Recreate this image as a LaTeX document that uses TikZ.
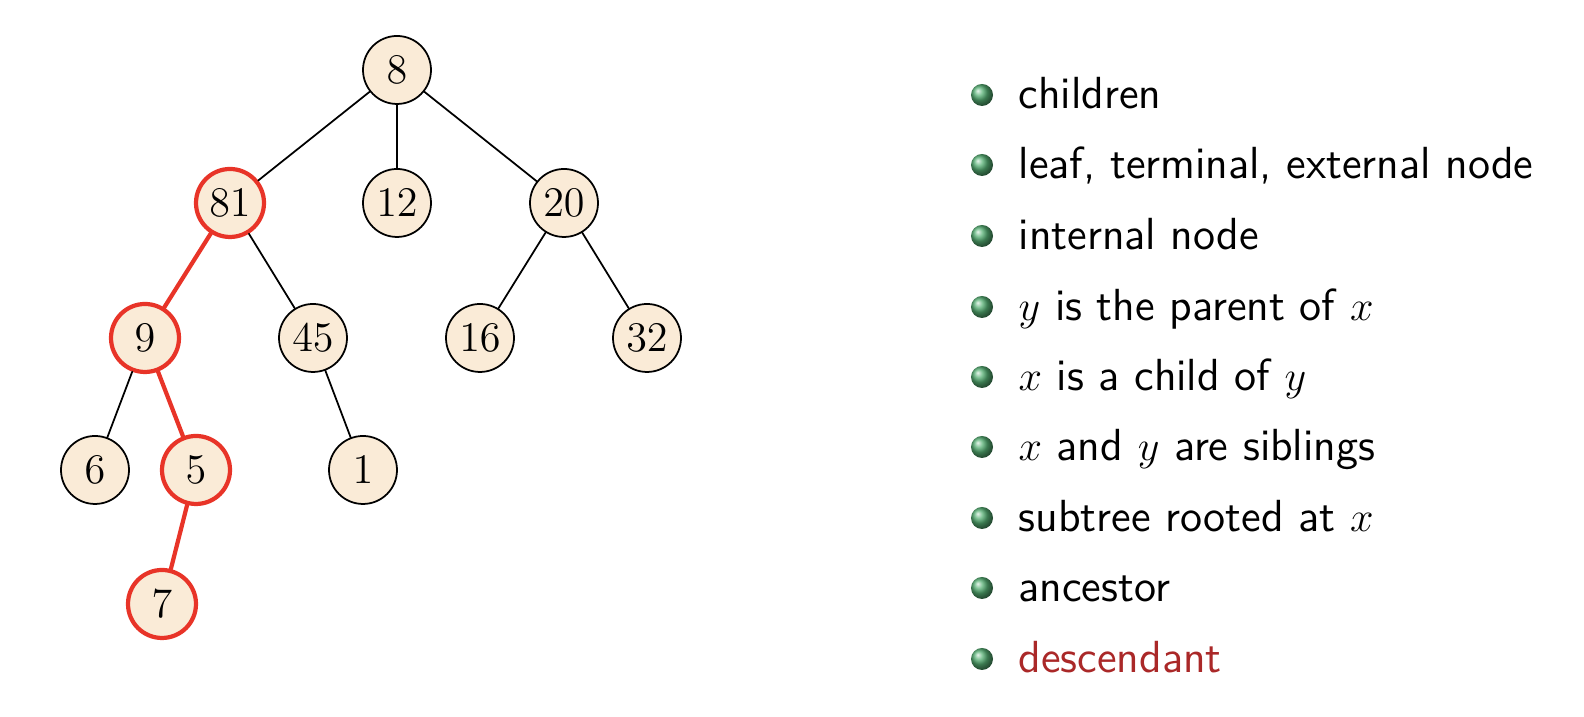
\documentclass[tikz,border=0pt]{standalone}
\usepackage{amsmath,amssymb}
\usetikzlibrary{arrows}
\definecolor{nodefill}{RGB}{250,235,215}
\definecolor{hotred}{RGB}{232,52,40}
\definecolor{ballgreen}{RGB}{85,175,115}
\definecolor{alertbrown}{RGB}{170,40,40}

\begin{document}
\begin{tikzpicture}[line cap=round,line join=round,
		vert/.style={circle,draw=black,line width=0.5pt,fill=nodefill,minimum size=0.68cm,inner sep=0pt,font=\fontsize{13pt}{15pt}\selectfont},
		hotvert/.style={vert,draw=hotred,line width=1.2pt},
		hotedge/.style={draw=hotred,line width=1.2pt},
		item/.style={anchor=base west,inner sep=0pt,font=\sffamily\fontsize{12.8pt}{15pt}\selectfont}]
	\useasboundingbox (0,0) rectangle (15.84,7.17);
	% tree
	\node[vert] (n8) at (3.97,6.47) {$8$};
	\node[hotvert] (n81) at (2.30,5.14) {$81$};
	\node[vert] (n12) at (3.97,5.14) {$12$};
	\node[vert] (n20) at (5.64,5.14) {$20$};
	\node[hotvert] (n9) at (1.45,3.79) {$9$};
	\node[vert] (n45) at (3.13,3.79) {$45$};
	\node[vert] (n16) at (4.80,3.79) {$16$};
	\node[vert] (n32) at (6.47,3.79) {$32$};
	\node[vert] (n6) at (0.95,2.47) {$6$};
	\node[hotvert] (n5) at (1.96,2.47) {$5$};
	\node[vert] (n1) at (3.63,2.47) {$1$};
	\node[hotvert] (n7) at (1.62,1.13) {$7$};
	\draw [line width=0.5pt] (n8)-- (n81);
	\draw [line width=0.5pt] (n8)-- (n12);
	\draw [line width=0.5pt] (n8)-- (n20);
	\draw [line width=0.5pt] (n81)-- (n45);
	\draw [line width=0.5pt] (n20)-- (n16);
	\draw [line width=0.5pt] (n20)-- (n32);
	\draw [line width=0.5pt] (n9)-- (n6);
	\draw [line width=0.5pt] (n45)-- (n1);
	\draw [hotedge] (n81)-- (n9);
	\draw [hotedge] (n9)-- (n5);
	\draw [hotedge] (n5)-- (n7);
	% list
	\shade[ball color=ballgreen] (9.82,6.22) circle (0.11);
	\node[item] (t1) at (10.18,6.08) {children};
	\shade[ball color=ballgreen] (9.82,5.52) circle (0.11);
	\node[item] (t2) at (10.18,5.38) {leaf, terminal, external node};
	\shade[ball color=ballgreen] (9.82,4.81) circle (0.11);
	\node[item] (t3) at (10.18,4.67) {internal node};
	\shade[ball color=ballgreen] (9.82,4.10) circle (0.11);
	\node[item] (t4) at (10.18,3.96) {$y$ is the parent of $x$};
	\shade[ball color=ballgreen] (9.82,3.40) circle (0.11);
	\node[item] (t5) at (10.18,3.26) {$x$ is a child of $y$};
	\shade[ball color=ballgreen] (9.82,2.70) circle (0.11);
	\node[item] (t6) at (10.18,2.56) {$x$ and $y$ are siblings};
	\shade[ball color=ballgreen] (9.82,1.99) circle (0.11);
	\node[item] (t7) at (10.18,1.85) {subtree rooted at $x$};
	\shade[ball color=ballgreen] (9.82,1.29) circle (0.11);
	\node[item] (t8) at (10.18,1.15) {ancestor};
	\shade[ball color=ballgreen] (9.82,0.58) circle (0.11);
	\node[item,text=alertbrown] (t9) at (10.18,0.44) {descendant};
\end{tikzpicture}
\end{document}
